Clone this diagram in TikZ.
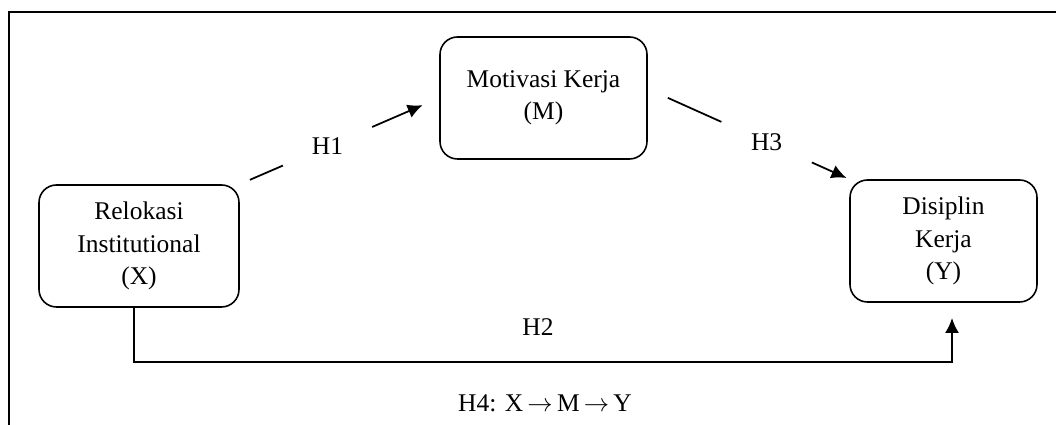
\documentclass[tikz,border=0pt]{standalone}
\usepackage{fontspec}
\setmainfont{Liberation Serif}
\usetikzlibrary{arrows.meta}
\newcommand{\figfont}{\fontsize{14.5}{18.5}\selectfont}

\begin{document}
\begin{tikzpicture}[
  varb/.style={draw, line width=0.9pt, rounded corners=0.35cm,
               minimum height=2.44cm, font=\figfont, align=center},
  hyp/.style={font=\figfont, inner sep=0pt},
  gaplbl/.style={circle, fill=white, inner sep=0pt, font=\figfont},
  arr/.style={-{Latex[length=3mm, width=2.8mm]}, line width=1pt},
]
\useasboundingbox (0,0) rectangle (21.12,8.5);

% Frame (top and left edges)
\draw[line width=0.6pt] (0.18,0) -- (0.18,8.26) -- (21.12,8.26);

% Variables
\node[varb, minimum width=4.0cm]  (rel) at (2.78, 3.58)  {Relokasi\\Institutional\\(X)};
\node[varb, minimum width=4.14cm] (mot) at (10.87, 6.54) {Motivasi Kerja\\(M)};
\node[varb, minimum width=3.74cm] (dis) at (18.87, 3.68) {Disiplin\\Kerja\\(Y)};

% Direct path end points
\coordinate (h2corner) at (19.04, 1.26);
\coordinate (h2end)    at (19.04, 2.14);

% H1: X -> M
\draw[arr, shorten <=0.22cm, shorten >=0.36cm]
  (rel.north east) -- node[gaplbl, pos=0.44, minimum size=1.94cm] {H1} (mot.west);

% H3: M -> Y
\draw[arr, shorten <=0.44cm, shorten >=0.06cm]
  (mot.5) -- node[gaplbl, pos=0.59, minimum size=1.98cm] {H3} (dis.north west);

% H2: X -> Y
\draw[arr] ([xshift=-0.1cm]rel.south) |- (h2corner) -- (h2end);
\node[hyp] (h2) at (10.76, 1.96) {H2};

% H4: mediation
\node[hyp] (h4) at (10.9, 0.44) {H4: X\,$\rightarrow$\,M\,$\rightarrow$\,Y};

\end{tikzpicture}
\end{document}
